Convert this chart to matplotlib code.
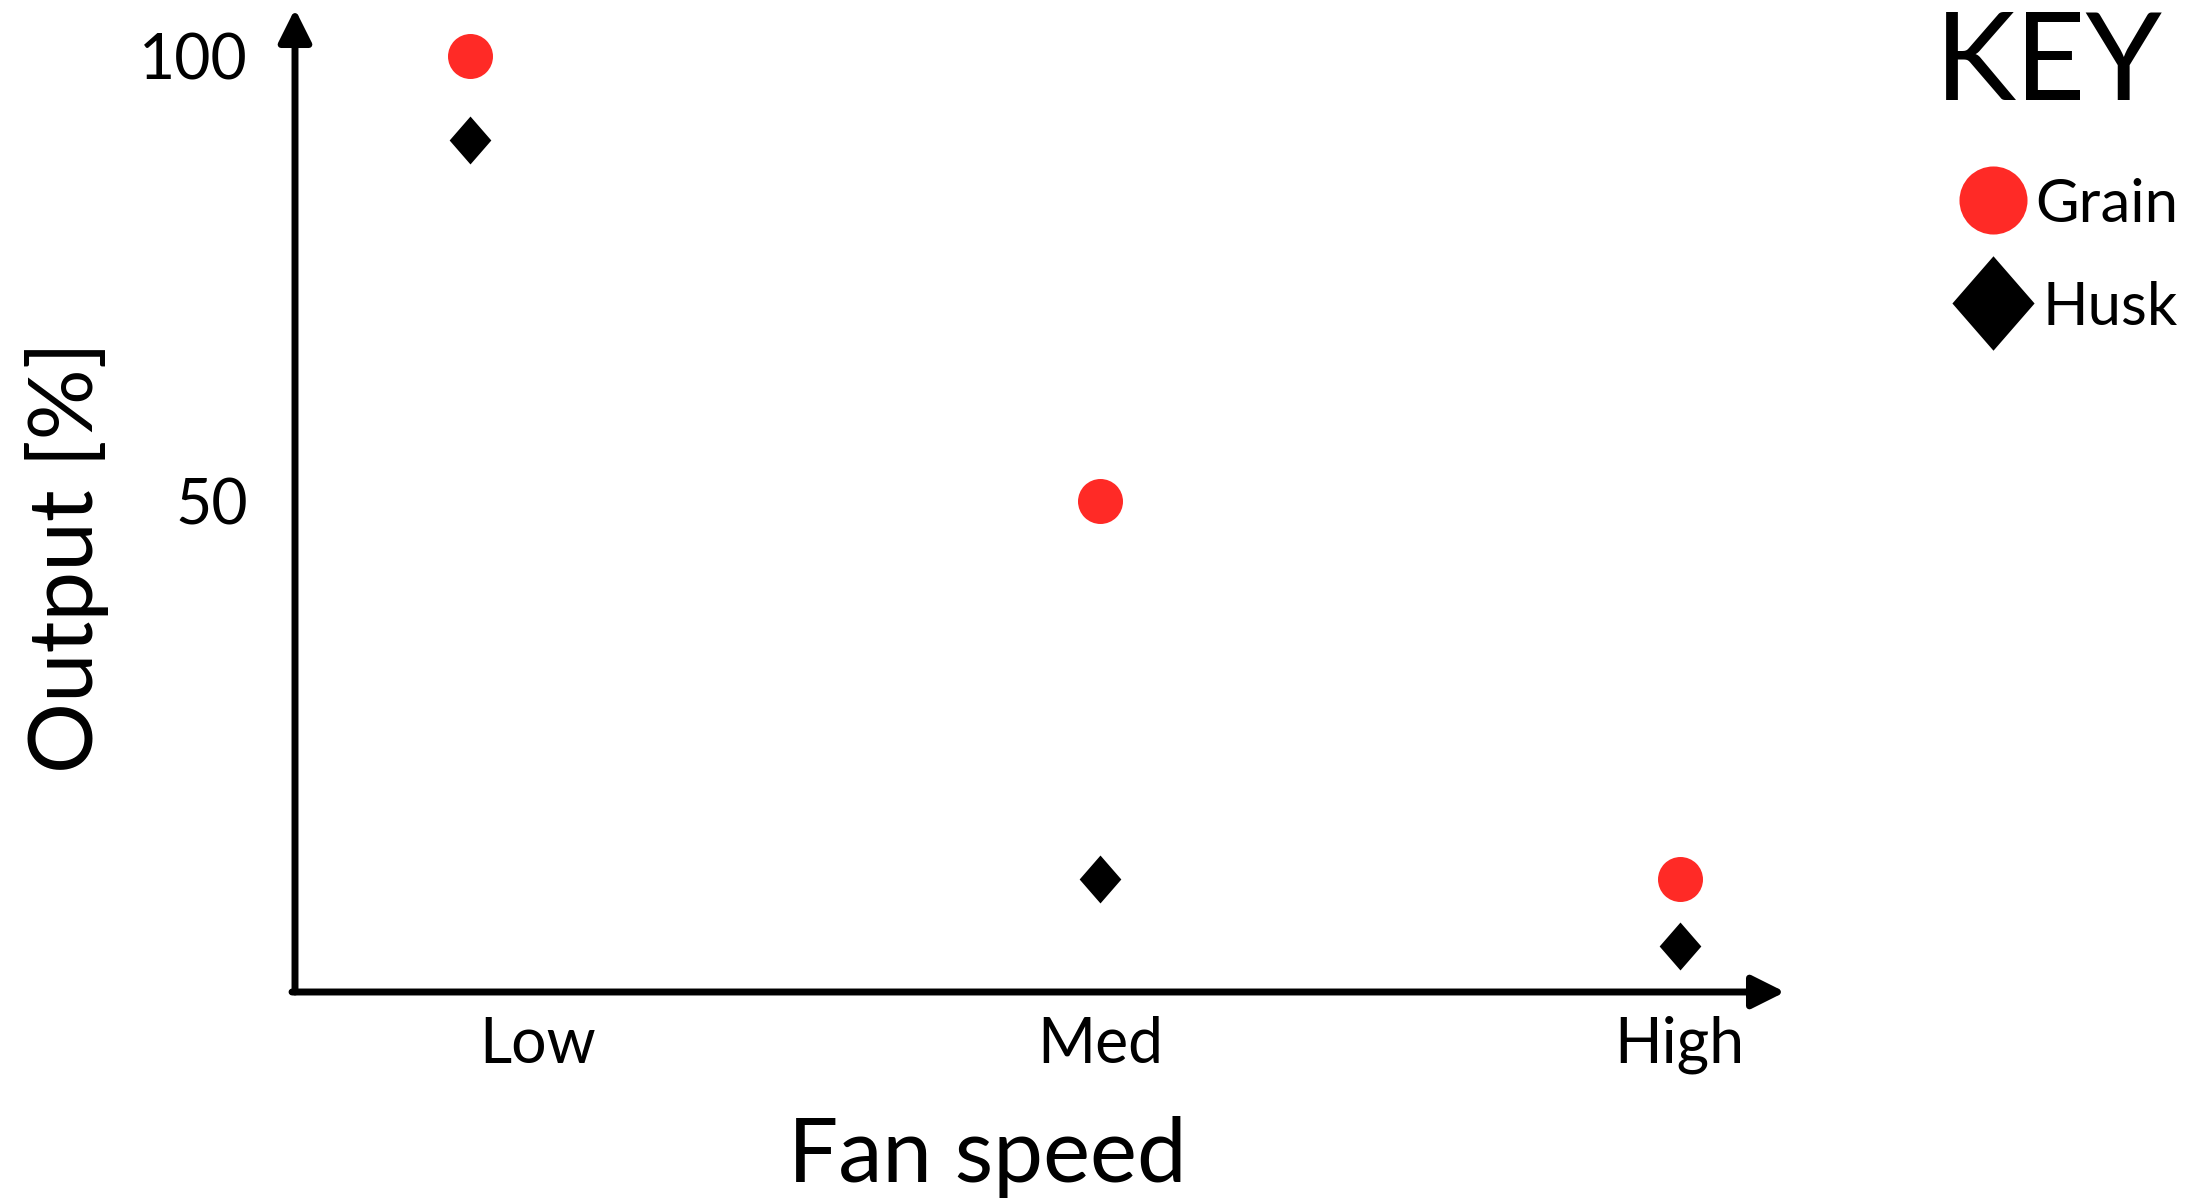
import matplotlib
matplotlib.use("Agg")
import matplotlib.pyplot as plt
from matplotlib.lines import Line2D

# --- data ---
speeds = ["Low", "Med", "High"]
x_pos = [0.0, 1.0, 1.92]          # where the markers sit along the fan-speed axis
label_pos = [0.107, 1.0, 1.92]    # the tick labels (Low is a bit off-centre)
grain = [100, 50, 7.5]
husk = [90.5, 7.5, 0]
y_ticks = [50, 100]

RED = "#ff2a26"
DIAMOND = [(0, 1), (0.87, 0), (0, -1), (-0.87, 0)]
FONT = ["Lato", "DejaVu Sans"]

plt.rcParams["font.family"] = FONT

W, H = 2211, 1203
fig = plt.figure(figsize=(W / 100, H / 100), dpi=100)

# axes placed in pixel terms of the reference
ax_l, ax_r, ax_b, ax_t = 295, 1785, 992, 9
ax = fig.add_axes([ax_l / W, 1 - ax_b / H, (ax_r - ax_l) / W, (ax_b - ax_t) / H])

ax.plot(x_pos, grain, linestyle="none", marker="o", markersize=32.4,
        color=RED, markeredgewidth=0, clip_on=False)
ax.plot(x_pos, husk, linestyle="none", marker=DIAMOND, markersize=34.5,
        color="black", markeredgewidth=0, clip_on=False)

ax.set_xlim(-0.278, 2.087)
ax.set_ylim(-5.2, 105.25)

for s in ax.spines.values():
    s.set_visible(False)

# arrow axes
arrow = dict(arrowstyle="-|>", lw=5, color="black", mutation_scale=50,
             shrinkA=0, shrinkB=0)
ax.annotate("", xy=(0, 1), xytext=(0, 0), xycoords="axes fraction",
            arrowprops=arrow, annotation_clip=False)
ax.annotate("", xy=(1, 0), xytext=(-0.002, 0), xycoords="axes fraction",
            arrowprops=arrow, annotation_clip=False)

ax.set_yticks(y_ticks)
ax.set_yticklabels([str(v) for v in y_ticks])
ax.set_xticks(label_pos)
ax.set_xticklabels(speeds)
ax.tick_params(axis="y", length=0, pad=34, labelsize=45)
ax.tick_params(axis="x", length=0, pad=17, labelsize=45)

ax.set_xlabel("Fan speed", fontsize=64, va="baseline")
ax.xaxis.set_label_coords((987 - ax_l) / (ax_r - ax_l), (ax_b - 1182) / (ax_b - ax_t))
ax.set_ylabel("Output [%]", fontsize=64, va="center", ha="center")
ax.yaxis.set_label_coords((67 - ax_l) / (ax_r - ax_l), (ax_b - 557) / (ax_b - ax_t))

# hand-made key, top right
fig.text(2049 / W, 1 - 100 / H, "KEY", fontsize=88, ha="center", va="baseline")
fig.add_artist(Line2D([1993 / W], [1 - 200 / H], transform=fig.transFigure,
                      linestyle="none", marker="o", markersize=49,
                      color=RED, markeredgewidth=0))
fig.add_artist(Line2D([1993 / W], [1 - 303 / H], transform=fig.transFigure,
                      linestyle="none", marker=DIAMOND, markersize=68,
                      color="black", markeredgewidth=0))
fig.text(2035 / W, 1 - 222 / H, "Grain", fontsize=43, ha="left", va="baseline")
fig.text(2042 / W, 1 - 325 / H, "Husk", fontsize=43, ha="left", va="baseline")

fig.savefig("out.png", dpi=100)
